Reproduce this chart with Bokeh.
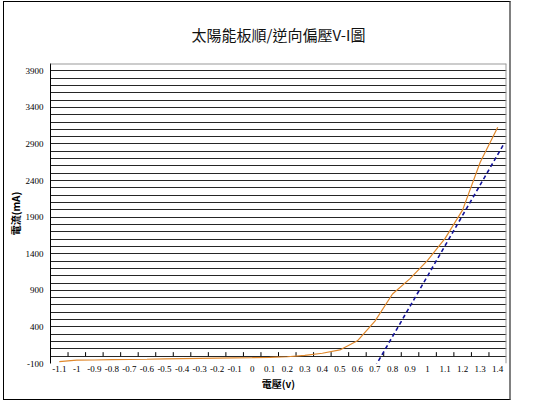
from bokeh.plotting import figure
from bokeh.models import (FixedTicker, CustomJSTickFormatter, Range1d,
                          ColumnDataSource, Span)
from bokeh.embed import file_html
from bokeh.resources import INLINE

# ---- data ----
volts = [-1.1, -1.0, -0.9, -0.8, -0.7, -0.6, -0.5, -0.4, -0.3, -0.2, -0.1, 0.0,
         0.1, 0.2, 0.3, 0.4, 0.5, 0.6, 0.7, 0.8, 0.9, 1.0, 1.1, 1.2, 1.3, 1.4]
x_labels = ["-1.1", "-1", "-0.9", "-0.8", "-0.7", "-0.6", "-0.5", "-0.4", "-0.3",
            "-0.2", "-0.1", "0", "0.1", "0.2", "0.3", "0.4", "0.5", "0.6", "0.7",
            "0.8", "0.9", "1", "1.1", "1.2", "1.3", "1.4"]
current_ma = [-75, -55, -52, -48, -45, -42, -38, -34, -31, -27, -23, -20,
              -15, -8, 10, 40, 85, 210, 480, 850, 1060, 1310, 1610, 2000, 2650, 3130]
trend_v = [0.68, 1.43]
trend_ma = [-230, 2880]
y_ticks = [-100, 400, 900, 1400, 1900, 2400, 2900, 3400, 3900]
y_labels = ["-100", "400", "900", "1400", "1900", "2400", "2900", "3400", "3900"]

TITLE = "太陽能板順/逆向偏壓V-I圖"
CJK = "Noto Sans CJK TC"
SERIF = "Liberation Serif"
X_MIN, X_MAX = -1.15, 1.45
Y_MIN, Y_MAX = -100, 4000

p = figure(width=508, height=399, output_backend="svg", toolbar_location=None,
           x_range=Range1d(X_MIN, X_MAX), y_range=Range1d(Y_MIN, Y_MAX),
           title=TITLE, min_border_left=46, min_border_right=6,
           min_border_top=57, min_border_bottom=38)
p.styles = {"border": "1px solid #000000", "border-right": "2px solid #808080",
            "margin-top": "1px", "margin-left": "3px"}
p.outline_line_color = None
p.background_fill_color = "white"
p.border_fill_color = "white"

p.title.text_font = CJK
p.title.text_font_size = "15px"
p.title.text_font_style = "normal"
p.title.align = "center"
p.title.offset = -32
p.title.text_color = "#111111"
p.title.standoff = 38

# grid
p.xgrid.visible = False
p.ygrid.ticker = FixedTicker(ticks=list(range(0, 4000, 100)))
p.ygrid.grid_line_color = "#262626"
p.ygrid.grid_line_width = 1

# y axis
ya = p.yaxis[0]
ya.ticker = FixedTicker(ticks=y_ticks)
ya.formatter = CustomJSTickFormatter(args=dict(labels=y_labels),
                                     code="return labels[index];")
ya.major_tick_out = 0
ya.major_tick_in = 0
ya.minor_tick_out = 0
ya.minor_tick_in = 0
ya.axis_line_color = "black"
ya.major_label_text_font = SERIF
ya.major_label_text_font_size = "9px"
ya.major_label_text_color = "black"
ya.major_label_standoff = 7
ya.axis_label = "電流(mA)"
ya.axis_label_text_font = CJK
ya.axis_label_text_font_size = "10px"
ya.axis_label_text_font_style = "bold"
ya.axis_label_text_color = "black"
ya.axis_label_standoff = 0

# x axis
xa = p.xaxis[0]
xa.ticker = FixedTicker(ticks=volts)
xa.formatter = CustomJSTickFormatter(args=dict(labels=x_labels),
                                     code="return labels[index];")
xa.axis_line_color = None
xa.major_tick_out = 0
xa.major_tick_in = 0
xa.minor_tick_out = 0
xa.minor_tick_in = 0
xa.major_label_text_font = SERIF
xa.major_label_text_font_size = "9px"
xa.major_label_text_color = "black"
xa.major_label_standoff = 2
xa.axis_label = "電壓(v)"
xa.axis_label_text_font = CJK
xa.axis_label_text_font_size = "10px"
xa.axis_label_text_font_style = "bold"
xa.axis_label_text_color = "black"
xa.axis_label_standoff = 1

# plot-area borders (top and right, grey)
p.add_layout(Span(location=X_MAX, dimension="height", line_color="#9a9a9a", line_width=2))
p.add_layout(Span(location=Y_MAX, dimension="width", line_color="#9a9a9a", line_width=2))

# category tick marks on the zero line (between categories)
bounds = [(a + b) / 2 for a, b in zip(volts[:-1], volts[1:])]
p.segment(x0=bounds, y0=[0] * len(bounds), x1=bounds, y1=[55] * len(bounds),
          line_color="black", line_width=1)

# series
src = ColumnDataSource(dict(v=volts, i=current_ma))
p.line("v", "i", source=src, line_color="#E0882C", line_width=1.2)
p.line(trend_v, trend_ma, line_color="#14149A", line_width=1.6, line_dash="4 3")

open("out.html", "w").write(file_html(p, INLINE))
